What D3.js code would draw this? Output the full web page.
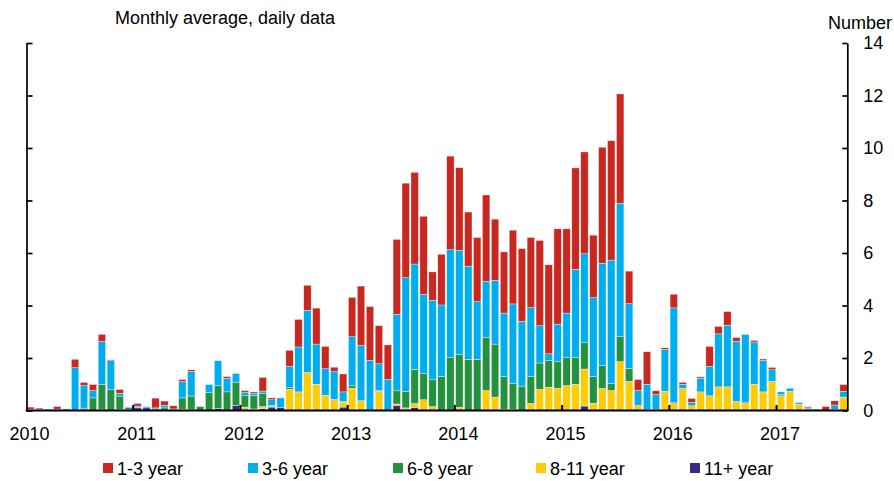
<!DOCTYPE html>
<html>
<head>
<meta charset="utf-8">
<script src="https://cdn.jsdelivr.net/npm/d3@7"></script>
<style>
  body { margin: 0; background: #fff; }
  text { font-family: Arial, "Liberation Sans", sans-serif; fill: #000; }
</style>
</head>
<body>
<svg id="chart" width="894" height="481"></svg>
<script>
// monthly categories Jan 2010 .. Aug 2017
const months = d3.timeMonth.range(new Date(2010, 0, 1), new Date(2017, 8, 1));
const years = [2010, 2011, 2012, 2013, 2014, 2015, 2016, 2017];
const yTicks = [0, 2, 4, 6, 8, 10, 12, 14];

// series (number of bonds, monthly avg)
const y1to3 = [0.08,0.05,0,0.1,0,0.32,0.12,0.23,0.27,0.03,0.14,0,
  0.1,0,0.37,0.16,0.12,0.08,0.06,0,0,0,0.06,0,
  0.06,0.05,0.52,0.07,0,0.61,1.05,0.95,1.37,0.85,0.17,0.68,
  1.5,2.26,2.05,1.45,1.32,2.86,3.6,3.49,2.98,1.08,1.93,3.56,
  3.15,2.06,2.44,3.29,2.33,2.33,2.81,2.77,2.67,3.25,3.39,3.63,
  3.21,3.86,3.88,2.38,4.42,4.55,4.17,1.24,0.42,1.24,0.14,0.06,
  0.52,0.07,0.15,0.05,0.76,0.28,0.52,0.14,0,0.06,0.05,0.09,
  0,0,0,0.04,0,0.15,0.16,0.26];
const y3to6 = [0.02,0.02,0.05,0.05,0.06,1.63,0.86,0.28,1.64,1.11,0.11,0.03,
  0.04,0.05,0.04,0.1,0.04,0.62,0.94,0.01,0.31,0.96,0.52,0.33,
  0.14,0.1,0.08,0.22,0.36,0.81,1.71,2.37,1.53,1.01,1.06,0.37,
  1.87,2.11,1.91,1.02,1.18,2.91,4.33,4.01,3.02,3.03,2.72,4.12,
  3.97,3.55,2.2,2.15,2.43,2.42,3.02,2.47,2.63,1.42,0.26,1.43,
  1.7,3.37,3.39,3.01,3.9,4.7,5.08,2.47,0.57,0.97,0.58,1.6,
  3.59,0.16,0.13,0.52,1.12,2.02,2.35,2.3,2.58,1.61,1.2,0.44,
  0.1,0.12,0.06,0.04,0.04,0,0.17,0.22];
const y6to8 = [0,0,0,0,0,0,0.06,0.48,0.94,0.79,0.5,0.08,
  0.03,0,0.06,0.1,0.02,0.43,0.52,0.15,0.68,0.86,0.71,0.89,
  0.43,0.5,0.51,0.03,0,0.06,0,0,0,0,0,0.02,
  0.09,0,0,0.03,0,0.5,0.63,1.3,0.99,1.02,1.3,2.01,
  2.01,1.95,1.95,2.01,2.02,1.24,0.99,0.93,1.02,1.0,1.01,1.01,
  1.06,1.01,1.0,1.01,0.87,0.27,0.95,0.49,0,0.03,0,0,
  0.05,0,0,0,0,0,0,0,0.05,0,0,0,
  0.05,0,0,0,0,0,0,0];
const y8to11 = [0,0,0,0,0,0,0.03,0,0,0,0,0,
  0,0,0,0,0,0.05,0.03,0,0,0,0,0,
  0.08,0.06,0.08,0.03,0,0.81,0.71,1.45,1.0,0.58,0.42,0.19,
  0.85,0.37,0,0.73,0,0.05,0.05,0.15,0.41,0.15,0,0,
  0.12,0,0,0.76,0.51,0.05,0.05,0,0.27,0.81,0.89,0.85,
  0.95,0.95,1.41,0.28,0.84,0.76,1.86,1.11,0.19,0,0.03,0.73,
  0.27,0.84,0.18,0.71,0.56,0.9,0.9,0.34,0.27,1.0,0.71,1.06,
  0.56,0.73,0.24,0.06,0,0,0.04,0.51];
const y11plus = [0.03,0.02,0,0,0,0,0,0,0.05,0,0.05,0.03,
  0.1,0.1,0,0,0,0,0,0,0,0.08,0,0.19,
  0.05,0,0.07,0.13,0.12,0,0,0,0,0,0,0.13,
  0,0,0,0,0,0.2,0.05,0.12,0,0,0,0,
  0,0,0,0,0,0,0,0,0,0,0,0,
  0,0.05,0.17,0,0,0,0,0,0,0,0,0,
  0,0,0,0,0,0,0,0,0,0,0,0.05,
  0,0,0,0,0,0,0,0];

// stacking order bottom -> top
const keys = ["p11", "p8", "p6", "p3", "p1"];
const colors = { p1: "#c8281f", p3: "#00aeef", p6: "#24913f", p8: "#ffcb05", p11: "#3b2a84" };
const legendItems = [
  { key: "p1", label: "1-3 year" },
  { key: "p3", label: "3-6 year" },
  { key: "p6", label: "6-8 year" },
  { key: "p8", label: "8-11 year" },
  { key: "p11", label: "11+ year" }
];

const rows = months.map((m, i) => ({
  i, date: m,
  p1: y1to3[i], p3: y3to6[i], p6: y6to8[i], p8: y8to11[i], p11: y11plus[i]
}));

const svg = d3.select("#chart");
const plotL = 26.7, plotR = 847.3, plotB = 410.5, plotT = 43;

const x = d3.scaleBand()
  .domain(d3.range(months.length))
  .range([plotL, plotR])
  .paddingInner(0.17)
  .paddingOuter(0);

const y = d3.scaleLinear().domain([0, 14]).range([plotB, plotT]);

const series = d3.stack().keys(keys)(rows);

svg.append("g")
  .selectAll("g")
  .data(series)
  .join("g")
  .attr("fill", d => colors[d.key])
  .selectAll("rect")
  .data(d => d.filter(p => p[1] - p[0] > 0))
  .join("rect")
  .attr("x", p => x(p.data.i))
  .attr("width", x.bandwidth())
  .attr("y", p => y(p[1]))
  .attr("height", p => y(p[0]) - y(p[1]))
  .attr("stroke", "#fff")
  .attr("stroke-width", 0.5)
  .attr("stroke-opacity", 0.7);

// left axis, ticks inward, no labels
const lAxis = svg.append("g")
  .attr("transform", `translate(${plotL - 0.2},0)`)
  .call(d3.axisRight(y).tickValues(yTicks).tickSize(6).tickSizeOuter(0).tickFormat(""));

// right axis, ticks inward, labels outside
const rAxis = svg.append("g")
  .attr("transform", `translate(${plotR},0)`)
  .call(d3.axisRight(y).tickValues(yTicks).tickSize(-5).tickSizeOuter(0).tickPadding(16));
rAxis.selectAll("text").style("font-size", "18px").attr("fill", "#000");

[lAxis, rAxis].forEach(a => {
  a.select(".domain").attr("stroke", "#000").attr("stroke-width", 1.7);
  a.selectAll(".tick line").attr("stroke", "#000").attr("stroke-width", 1.7);
});

// baseline
svg.append("line")
  .attr("x1", plotL - 1).attr("x2", plotR + 1)
  .attr("y1", y(0)).attr("y2", y(0))
  .attr("stroke", "#000").attr("stroke-width", 2);

// year ticks and labels
const gap = x.step() - x.bandwidth();
const yearG = svg.append("g");
years.forEach(yr => {
  const idx = (yr - 2010) * 12;
  const tx = x(idx) - gap / 2;
  if (yr > 2010) {
    yearG.append("line")
      .attr("x1", tx).attr("x2", tx)
      .attr("y1", y(0) - 5.5).attr("y2", y(0))
      .attr("stroke", "#000").attr("stroke-width", 2);
  }
  yearG.append("text")
    .attr("x", tx + 3.5).attr("y", 440)
    .attr("text-anchor", "middle")
    .style("font-size", "18px")
    .text(yr);
});

// titles
svg.append("text").attr("x", 115).attr("y", 23.5)
  .style("font-size", "18px").text("Monthly average, daily data");
svg.append("text").attr("x", 892).attr("y", 29).attr("text-anchor", "end")
  .style("font-size", "18px").text("Number");

// legend
const legX = [103, 248, 393, 536, 690];
const leg = svg.append("g");
legendItems.forEach((d, k) => {
  leg.append("rect")
    .attr("x", legX[k]).attr("y", 463)
    .attr("width", 10).attr("height", 10)
    .attr("fill", colors[d.key]);
  leg.append("text")
    .attr("x", legX[k] + 14).attr("y", 474.5)
    .style("font-size", "18px")
    .text(d.label);
});
</script>
</body>
</html>
